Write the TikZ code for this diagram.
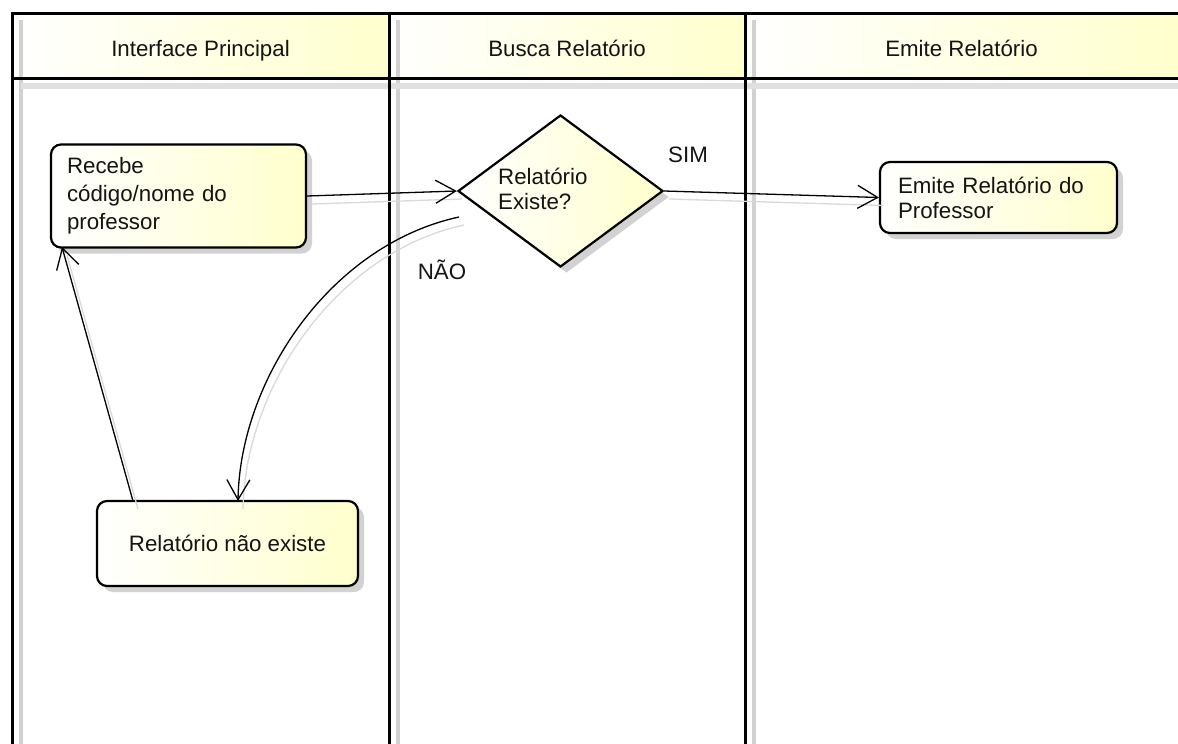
\documentclass[tikz,border=0pt]{standalone}
\usepackage{fontspec}
\setmainfont{Liberation Sans}
\usetikzlibrary{shapes.geometric,arrows.meta,shadows}
\definecolor{paleyellow}{RGB}{255,255,205}
\definecolor{shadowgray}{RGB}{210,210,210}
\newcommand{\headtext}[1]{\raisebox{-11pt}[0pt][0pt]{#1}}
\begin{document}
\begin{tikzpicture}[x=1pt,y=-1pt,
  txt/.style={font=\fontsize{22.3}{27}\selectfont, text=black!92},
  lanehead/.style={txt, inner sep=0pt, left color=white, right color=paleyellow},
  laneline/.style={line width=3pt, black},
  laneshadow/.style={line width=3.5pt, shadowgray},
  actbox/.style={txt, draw=black, line width=2.2pt, rounded corners=10pt,
    left color=white, right color=paleyellow, inner ysep=0pt,
    drop shadow={shadow xshift=6pt, shadow yshift=-6pt, fill=black!35, opacity=0.5}},
  decision/.style={draw=black, line width=2.2pt, shape=diamond, inner sep=0pt,
    minimum width=205pt, minimum height=152pt, aspect=1.35,
    left color=white, right color=paleyellow,
    drop shadow={shadow xshift=6pt, shadow yshift=-6pt, fill=black!35, opacity=0.5}},
  flow/.style={line width=1.3pt, black, -{Straight Barb[length=20pt,width=23pt]}},
  flowshadow/.style={line width=1.3pt, black!15, transform canvas={shift={(5,8)}}},
  guard/.style={txt, inner sep=0pt}]

% page
\useasboundingbox[fill=white] (0,0) rectangle (1178,744);

% lane headers
\node[lanehead, minimum width=377pt, minimum height=65pt] (h1) at (200.5,45.5) {\headtext{Interface Principal}};
\node[lanehead, minimum width=356pt, minimum height=65pt] (h2) at (567,45.5) {\headtext{Busca Relatório}};
\node[lanehead, minimum width=433pt, minimum height=65pt] (h3) at (961.5,45.5) {\headtext{Emite Relatório}};

% soft shadows of the swimlane frame
\draw[laneshadow] (21,20) -- (21,744);
\draw[laneshadow] (398,20) -- (398,744);
\draw[laneshadow] (754,20) -- (754,744);
\draw[line width=6pt, black!12] (21,86) -- (1178,86);

% swimlane frame
\draw[laneline] (10.5,13) -- (1178,13);
\draw[laneline] (12,78) -- (1178,78);
\draw[laneline] (12,11.5) -- (12,744);
\draw[laneline] (389,11.5) -- (389,744);
\draw[laneline] (745,11.5) -- (745,744);

% activities
\node[actbox, minimum width=255pt, minimum height=103pt, text width=223pt, inner xsep=16pt, align=left,
  font=\fontsize{22.3}{28}\selectfont] (recv) at (178.5,196)
  {Recebe\\código/nome do\\professor};
\node[decision] (check) at (560.5,191) {};
\node[txt, anchor=west, align=left, inner sep=0pt, font=\fontsize{22.3}{25}\selectfont] (checktxt) at (498,189)
  {Relatório\\Existe?};
\node[actbox, minimum width=237pt, minimum height=71pt, text width=201pt, inner xsep=18pt, align=left,
  font=\fontsize{22.3}{25}\selectfont] (emit) at (998.5,197.5)
  {Emite Relatório do\\Professor};
\node[actbox, minimum width=261pt, minimum height=85pt, align=center, inner xsep=10pt] (none) at (227.5,543.5)
  {Relatório não existe};

% guards
\node[guard] (yes) at (688,155) {SIM};
\node[guard] (no) at (442,270) {NÃO};

% loose ends of the curved flows
\coordinate (nostart) at (459,217);
\coordinate (noend) at (238,501);
\coordinate (backstart) at (133,501);
\coordinate (backend) at (62,247);

% connector shadows
\draw[flowshadow] (recv.east) -- (check.west);
\draw[flowshadow] (check.east) -- (emit.west);
\draw[flowshadow] (nostart) .. controls (330,245) and (240,380) .. (noend);
\draw[flowshadow] (backstart) -- (backend);

% connectors
\draw[flow] (recv.east) -- (check.west);
\draw[flow] (check.east) -- (emit.west);
\draw[flow] (nostart) .. controls (330,245) and (240,380) .. (noend);
\draw[flow] (backstart) -- (backend);

\end{tikzpicture}
\end{document}
